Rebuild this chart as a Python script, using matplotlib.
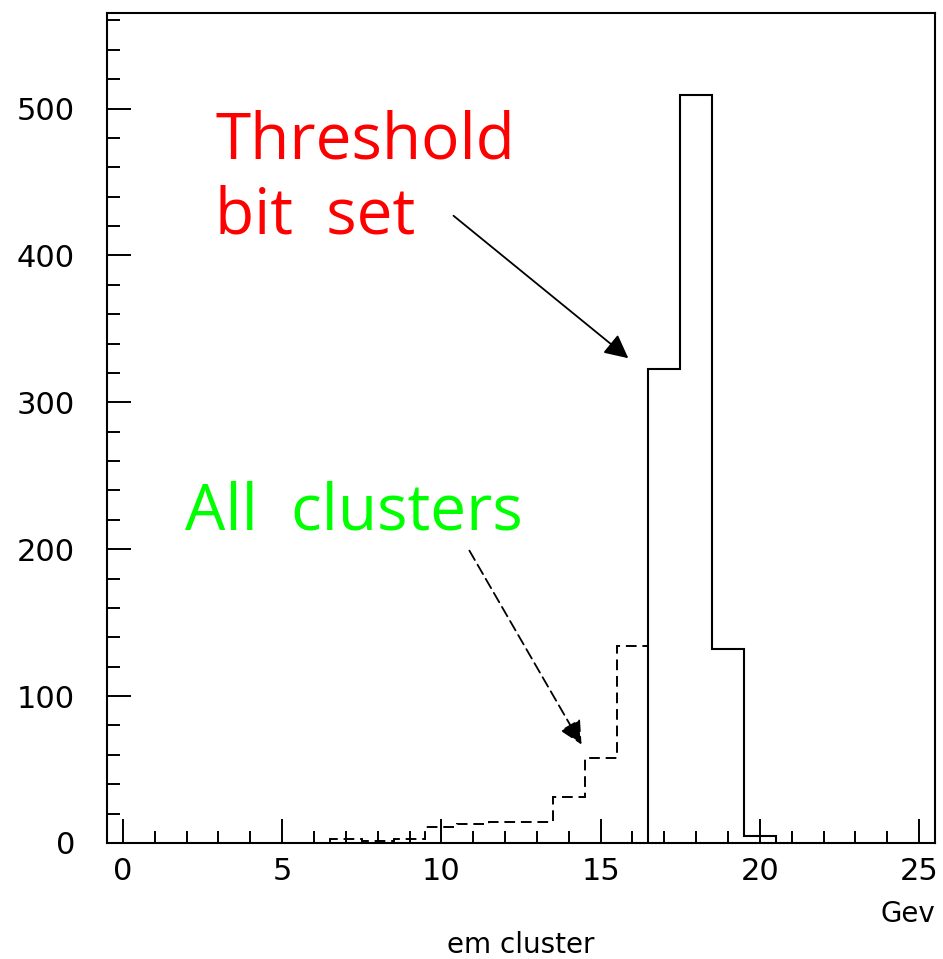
import numpy as np
import matplotlib
matplotlib.use('Agg')
from matplotlib import pyplot as plt
from matplotlib.ticker import MultipleLocator

# em cluster energy histograms (GeV bins of width 1, centred on integers)
thr_edges = [16.5, 17.5, 18.5, 19.5, 20.5]
thr_counts = [323, 509, 132, 5]

all_edges = [5.5, 6.5, 7.5, 8.5, 9.5, 10.5, 11.5, 12.5, 13.5, 14.5, 15.5, 16.5]
all_counts = [0, 3, 1, 3, 11, 13, 14, 14, 31, 58, 134]

thr_label = 'Threshold\nbit  set'
all_label = 'All  clusters'
x_title = 'em cluster'
x_unit = 'Gev'

fig = plt.figure(figsize=(9.43, 9.59), dpi=100)
ax = fig.add_axes([0.1135, 0.121, 0.878, 0.8654])

ax.stairs(thr_counts, thr_edges, baseline=0, color='black', lw=1.5)
ax.stairs(all_counts, all_edges, baseline=None, color='black', lw=1.4,
          ls=(0, (5.5, 3)))

ax.set_xlim(-0.5, 25.5)
ax.set_ylim(0, 565)

ax.xaxis.set_major_locator(MultipleLocator(5))
ax.xaxis.set_minor_locator(MultipleLocator(1))
ax.yaxis.set_major_locator(MultipleLocator(100))
ax.yaxis.set_minor_locator(MultipleLocator(20))

ax.tick_params(which='both', direction='in', top=False, right=False,
               width=1.4, labelsize=22)
ax.tick_params(which='major', length=17)
ax.tick_params(which='minor', length=9)
ax.tick_params(axis='y', pad=23)
ax.tick_params(axis='x', pad=10)
for lab in ax.get_xticklabels() + ax.get_yticklabels():
    lab.set_family('DejaVu Sans')
for s in ax.spines.values():
    s.set_linewidth(1.5)

ax.text(1.0, -0.085, x_unit, transform=ax.transAxes, ha='right', va='center',
        fontsize=20, family='DejaVu Sans')
fig.text(0.5525, 0.006, x_title, ha='center', va='baseline', fontsize=20,
         family='DejaVu Sans')

ax.text(2.9, 499, thr_label, color='#ff0000', fontsize=46,
        family='Open Sans', va='top', ha='left', linespacing=1.22)
ax.text(1.95, 247, all_label, color='#00ff00', fontsize=46,
        family='Open Sans', va='top', ha='left')

ax.annotate('', xy=(15.87, 330), xytext=(10.38, 427),
            arrowprops=dict(arrowstyle='-|>', mutation_scale=36, lw=1.3,
                            color='black', shrinkA=0, shrinkB=0))
ax.annotate('', xy=(14.40, 67), xytext=(10.88, 199),
            arrowprops=dict(arrowstyle='-|>', mutation_scale=36, lw=1.3,
                            color='black', ls=(0, (6, 3)),
                            shrinkA=0, shrinkB=0))

fig.savefig('out.png', dpi=100)
